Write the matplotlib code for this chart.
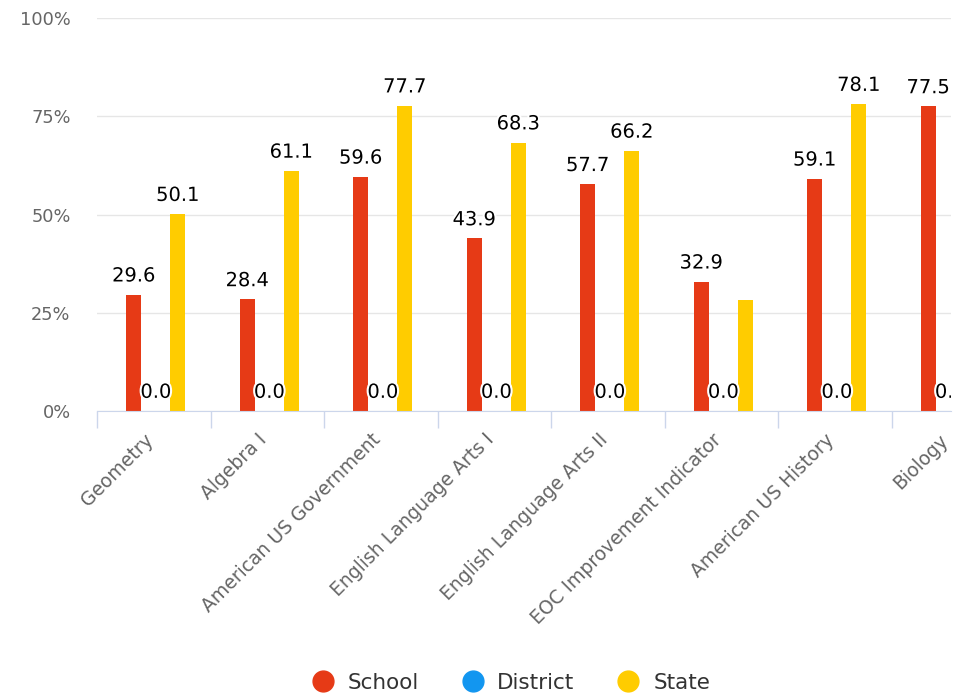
import matplotlib
matplotlib.use("Agg")
import matplotlib.pyplot as plt
import matplotlib.patheffects as pe
from matplotlib.lines import Line2D
from matplotlib.ticker import FixedLocator, PercentFormatter
from matplotlib.transforms import offset_copy
import numpy as np

categories = ["Geometry", "Algebra I", "American US Government", "English Language Arts I",
              "English Language Arts II", "EOC Improvement Indicator", "American US History", "Biology"]
school = [29.6, 28.4, 59.6, 43.9, 57.7, 32.9, 59.1, 77.5]
district = [0.0, 0.0, 0.0, 0.0, 0.0, 0.0, 0.0, 0.0]
state = [50.1, 61.1, 77.7, 68.3, 66.2, 28.3, 78.1, 80.2]
# state labels hidden in the original (EOC overlap, Biology off the edge)
state_labels = ["50.1", "61.1", "77.7", "68.3", "66.2", None, "78.1", None]

series = [("School", school, "#e63a16"), ("District", district, "#1296f0"), ("State", state, "#ffcc00")]

fig = plt.figure(figsize=(9.72, 7.0), dpi=100)
ax = fig.add_axes([97 / 972, (700 - 411) / 700, (951 - 97) / 972, (411 - 18) / 700])

x = np.arange(len(categories))
offset = 0.194
width = 0.132
shift = 0.018
outline = [pe.withStroke(linewidth=3, foreground="white")]

for k, (name, vals, color) in enumerate(series):
    pos = x + shift + (k - 1) * offset
    ax.bar(pos, vals, width=width, color=color, zorder=3)
    for i, (p, v) in enumerate(zip(pos, vals)):
        if name == "State":
            lab = state_labels[i]
        else:
            lab = f"{v:.1f}"
        if lab is None:
            continue
        t = ax.annotate(lab, (p, v), xytext=(0, 9.5), textcoords="offset points",
                        ha="center", va="baseline", fontsize=14, color="black",
                        path_effects=outline, zorder=5, annotation_clip=False)
        t.set_clip_path(ax.patch)

ax.set_xlim(-0.5, (951 - 97) / 113.5 - 0.5)
ax.set_ylim(0, 100)
ax.set_yticks([0, 25, 50, 75, 100])
ax.yaxis.set_major_formatter(PercentFormatter(decimals=0))
ax.grid(axis="y", color="#e6e6e6", linewidth=1, zorder=0)
ax.set_axisbelow(True)

for s in ["left", "right", "top"]:
    ax.spines[s].set_visible(False)
ax.spines["bottom"].set_color("#ccd6eb")
ax.spines["bottom"].set_zorder(4)

# category labels, rotated like highcharts
ax.set_xticks(x)
ax.set_xticklabels([])
lab_trans = offset_copy(ax.get_xaxis_transform(), fig=fig, x=-3, y=-26, units="dots")
for i, c in enumerate(categories):
    ax.text(i, 0, c, transform=lab_trans, rotation=45, ha="right", va="center",
            rotation_mode="anchor", fontsize=13.5, color="#666666")

ax.xaxis.set_minor_locator(FixedLocator(np.arange(-0.5, len(categories), 1)))
ax.tick_params(axis="x", which="major", length=0)
ax.tick_params(axis="x", which="minor", length=12.5, width=1, color="#ccd6eb")
ax.tick_params(axis="y", length=0, pad=19, labelsize=12.8, labelcolor="#666666")

handles = [Line2D([], [], marker="o", linestyle="none", markersize=15, color=c, label=n)
           for n, _, c in series]
fig.legend(handles=handles, loc="center", bbox_to_anchor=(511 / 972, 1 - 683 / 700), ncol=3,
           frameon=False, fontsize=15.5, labelcolor="#333333", handlelength=1.0,
           handletextpad=0.65, columnspacing=2.0)

fig.savefig("out.png", dpi=100)
